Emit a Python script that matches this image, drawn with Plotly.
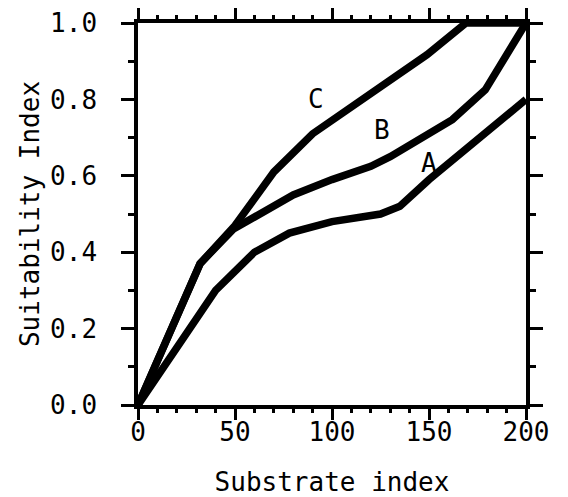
import plotly.graph_objects as go

# Substrate index vs Suitability Index, curves A, B, C
a_x = [0, 40, 60, 78, 100, 125, 135, 150, 200]
a_y = [0.0, 0.30, 0.40, 0.45, 0.48, 0.50, 0.52, 0.59, 0.80]

b_x = [0, 32, 49, 80, 100, 120, 130, 162, 179, 200]
b_y = [0.0, 0.37, 0.46, 0.55, 0.59, 0.625, 0.65, 0.747, 0.825, 1.0]

c_x = [0, 32, 50, 70, 90, 123, 149, 169, 200]
c_y = [0.0, 0.37, 0.47, 0.61, 0.71, 0.826, 0.917, 1.0, 1.0]

labels = ["A", "B", "C"]
label_x = [150, 125.6, 92]
label_y = [0.634, 0.721, 0.80]

x_ticks = [0, 50, 100, 150, 200]
y_ticks = [0.0, 0.2, 0.4, 0.6, 0.8, 1.0]
y_ticklabels = ["0.0", "0.2", "0.4", "0.6", "0.8", "1.0"]

FONT = "DejaVu Sans Mono"

fig = go.Figure()
for xs, ys in [(a_x, a_y), (b_x, b_y), (c_x, c_y)]:
    fig.add_trace(go.Scatter(x=xs, y=ys, mode="lines",
                             line=dict(color="black", width=7.5),
                             showlegend=False, hoverinfo="skip"))

for t, lx, ly in zip(labels, label_x, label_y):
    fig.add_annotation(x=lx, y=ly, text=t, showarrow=False,
                       font=dict(family=FONT, size=26, color="black"),
                       xanchor="center", yanchor="middle")

axis_common = dict(
    showgrid=False, zeroline=False,
    showline=True, linecolor="black", linewidth=3.5,
    mirror="allticks", ticks="outside", tickcolor="black", tickwidth=3,
    tickfont=dict(family=FONT, size=26, color="black"),
)

fig.update_xaxes(range=[0, 200], tickvals=x_ticks, ticklen=11,
                 ticklabelstandoff=-10,
                 minor=dict(dtick=10, ticklen=4, tickwidth=3, tickcolor="black", ticks="outside"),
                 title=dict(text="Substrate index", font=dict(family=FONT, size=26, color="black"),
                            standoff=30),
                 **axis_common)
fig.update_yaxes(range=[0, 1.0], tickvals=y_ticks, ticktext=y_ticklabels, ticklen=13,
                 ticklabelstandoff=19,
                 minor=dict(dtick=0.1, ticklen=6, tickwidth=3, tickcolor="black", ticks="outside"),
                 title=dict(text="Suitability Index", font=dict(family=FONT, size=26, color="black"),
                            standoff=4),
                 **axis_common)

fig.update_layout(
    width=560, height=489,
    margin=dict(l=130, r=42, t=15, b=92, autoexpand=False),
    paper_bgcolor="white", plot_bgcolor="white",
)

fig.write_html("out.html")
